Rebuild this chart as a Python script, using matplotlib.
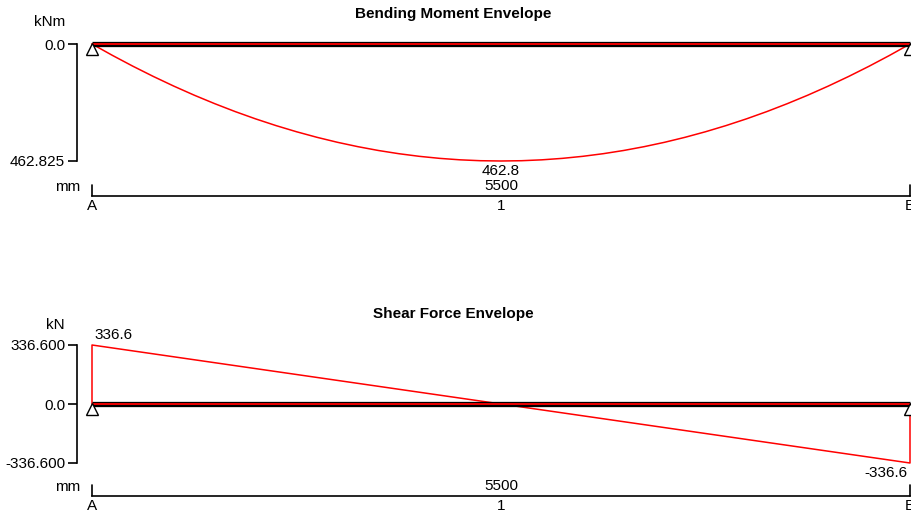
import matplotlib
matplotlib.use("Agg")
import matplotlib.pyplot as plt
from matplotlib.transforms import offset_copy

plt.rcParams["font.family"] = ["Liberation Sans", "DejaVu Sans"]
FS = 11

# span and station positions (mm)
span = 5500
stations = [0, 137.5, 275, 412.5, 550, 687.5, 825, 962.5, 1100, 1237.5, 1375,
            1512.5, 1650, 1787.5, 1925, 2062.5, 2200, 2337.5, 2475, 2612.5, 2750,
            2887.5, 3025, 3162.5, 3300, 3437.5, 3575, 3712.5, 3850, 3987.5, 4125,
            4262.5, 4400, 4537.5, 4675, 4812.5, 4950, 5087.5, 5225, 5362.5, 5500]
# bending moment envelope (kNm)
moment = [0.0, 45.1, 87.9, 128.4, 166.6, 202.5, 236.0, 267.3, 296.2, 322.8, 347.1,
          369.1, 388.8, 406.1, 421.2, 433.9, 444.3, 452.4, 458.2, 461.7, 462.8,
          461.7, 458.2, 452.4, 444.3, 433.9, 421.2, 406.1, 388.8, 369.1, 347.1,
          322.8, 296.2, 267.3, 236.0, 202.5, 166.6, 128.4, 87.9, 45.1, 0.0]
moment_max = 462.825

# shear force envelope (kN)
shear_x = [0, 0, 5500, 5500]
shear_v = [0.0, 336.6, -336.6, 0.0]
shear_max = 336.600

node_x = [0, 2750, 5500]
node_labels = ["A", "1", "B"]

W, H = 912, 513
fig = plt.figure(figsize=(W / 100, H / 100), dpi=100)


def px_axes(x0, y0, x1, y1):
    return fig.add_axes([x0 / W, 1 - y1 / H, (x1 - x0) / W, (y1 - y0) / H])


def beam(ax, yval):
    ax.plot([0, span], [yval, yval], color="black", lw=3.8, solid_capstyle="butt",
            clip_on=False, zorder=3)
    ax.plot([0, span], [yval, yval], color="red", lw=1.3, solid_capstyle="butt",
            clip_on=False, zorder=4)
    for xs in (0, span):
        tr = offset_copy(ax.transData, fig=fig, x=0, y=-4.5, units="dots")
        ax.plot([xs], [yval], marker="^", ms=9, mfc="white", mec="black", mew=1.0,
                transform=tr, clip_on=False, zorder=5)


def dimension(ax, drop):
    base = ax.get_xaxis_transform()
    tr = offset_copy(base, fig=fig, x=0, y=-drop, units="dots")
    ax.plot([0, span], [0, 0], color="black", lw=1.2, transform=tr, clip_on=False)
    tr_tick = offset_copy(base, fig=fig, x=0, y=-drop + 11, units="dots")
    for xs in (0, span):
        ax.annotate("", xy=(xs, 0), xycoords=tr, xytext=(xs, 0), textcoords=tr_tick,
                    arrowprops=dict(arrowstyle="-", lw=1.2, color="black",
                                    shrinkA=0, shrinkB=0))
    tr_txt = offset_copy(base, fig=fig, x=0, y=-drop + 10, units="dots")
    ax.text(span / 2, 0, f"{span}", transform=tr_txt, ha="center", va="center", fontsize=FS)
    tr_mm = offset_copy(base, fig=fig, x=-24, y=-drop + 9, units="dots")
    ax.text(0, 0, "mm", transform=tr_mm, ha="center", va="center", fontsize=FS)
    tr_lbl = offset_copy(base, fig=fig, x=0, y=-drop - 10, units="dots")
    for xs, lab in zip(node_x, node_labels):
        ax.text(xs, 0, lab, transform=tr_lbl, ha="center", va="center", fontsize=FS,
                clip_on=False)


def style(ax):
    for s in ("top", "right", "bottom"):
        ax.spines[s].set_visible(False)
    ax.spines["left"].set_position(("outward", 10.8))
    ax.spines["left"].set_linewidth(1.2)
    ax.tick_params(axis="y", direction="out", length=6.5, width=1.2, pad=2, labelsize=FS)
    ax.set_xticks([])
    ax.set_xlim(0, span)
    ax.patch.set_visible(False)


# ---- bending moment ----
ax1 = px_axes(92, 44, 910, 161)
style(ax1)
ax1.set_ylim(moment_max, 0)
ax1.set_yticks([0, moment_max])
ax1.set_yticklabels(["0.0", f"{moment_max:.3f}"])
ax1.plot(stations, moment, color="red", lw=1.1, clip_on=False, zorder=2)
beam(ax1, 0)
i_max = moment.index(max(moment))
ax1.annotate(f"{max(moment):.1f}", xy=(stations[i_max], max(moment)), xytext=(0, -10),
             textcoords="offset pixels", ha="center", va="center", fontsize=FS,
             annotation_clip=False)
dimension(ax1, 35)
fig.text(453 / W, 1 - 14 / H, "Bending Moment Envelope", ha="center", va="center",
         fontsize=FS, fontweight="bold")
fig.text(65 / W, 1 - 22 / H, "kNm", ha="right", va="center", fontsize=FS)

# ---- shear force ----
ax2 = px_axes(92, 345, 910, 463)
style(ax2)
ax2.set_ylim(-shear_max, shear_max)
ax2.set_yticks([shear_max, 0, -shear_max])
ax2.set_yticklabels([f"{shear_max:.3f}", "0.0", f"{-shear_max:.3f}"])
ax2.plot(shear_x, shear_v, color="red", lw=1.1, clip_on=False, zorder=2)
beam(ax2, 0)
ax2.annotate(f"{shear_v[1]:.1f}", xy=(shear_x[1], shear_v[1]), xytext=(2, 10),
             textcoords="offset pixels", ha="left", va="center", fontsize=FS,
             annotation_clip=False)
ax2.annotate(f"{shear_v[2]:.1f}", xy=(shear_x[2], shear_v[2]), xytext=(-2, -10),
             textcoords="offset pixels", ha="right", va="center", fontsize=FS,
             annotation_clip=False)
dimension(ax2, 33)
fig.text(453 / W, 1 - 314 / H, "Shear Force Envelope", ha="center", va="center",
         fontsize=FS, fontweight="bold")
fig.text(65 / W, 1 - 325 / H, "kN", ha="right", va="center", fontsize=FS)

fig.savefig("out.png", dpi=100)
